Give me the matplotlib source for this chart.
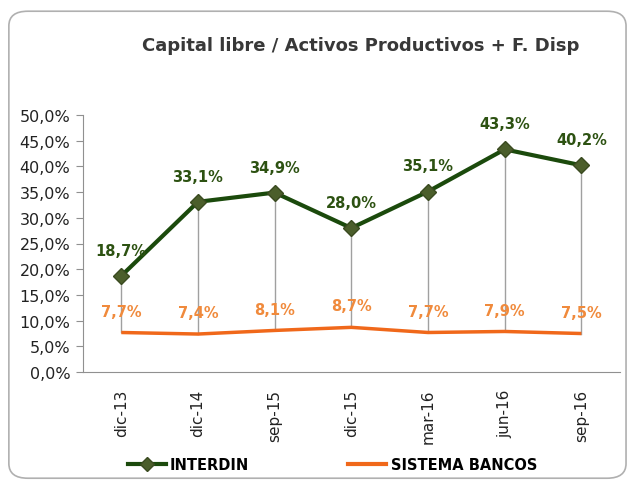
import matplotlib.pyplot as plt
from matplotlib.patches import FancyBboxPatch
from matplotlib.lines import Line2D

categories = ["dic-13", "dic-14", "sep-15", "dic-15", "mar-16", "jun-16", "sep-16"]
interdin = [18.7, 33.1, 34.9, 28.0, 35.1, 43.3, 40.2]
sistema = [7.7, 7.4, 8.1, 8.7, 7.7, 7.9, 7.5]
yticks = [0, 5, 10, 15, 20, 25, 30, 35, 40, 45, 50]

GREEN = "#1b4a0c"
GREEN_MK = "#4b5e2b"
GREEN_TXT = "#2d5212"
ORANGE = "#f0681a"
ORANGE_TXT = "#f08a3c"


def pct(v):
    return f"{v:.1f}%".replace(".", ",")


fig = plt.figure(figsize=(6.33, 4.89), dpi=100)
fig.patches.append(FancyBboxPatch((0.014, 0.02), 0.975, 0.955, boxstyle="round,pad=0,rounding_size=0.03",
                                  transform=fig.transFigure, fc="none", ec="#b0b0b0", lw=1.2, zorder=-1))

ax = fig.add_axes([0.131, 0.237, 0.848, 0.526])
x = list(range(len(categories)))

# drop lines between the two series
for i in x:
    ax.plot([i, i], [sistema[i], interdin[i]], color="#a0a0a0", lw=1, zorder=1)

ax.plot(x, sistema, color=ORANGE, lw=2.5, zorder=2, solid_capstyle="butt")
ax.plot(x, interdin, color=GREEN, lw=3, marker="D", markersize=8,
        markerfacecolor=GREEN_MK, markeredgecolor="#3a4a20", zorder=3)

for i in x:
    ax.annotate(pct(interdin[i]), (i, interdin[i]), xytext=(0, 13), textcoords="offset points",
                ha="center", va="bottom", color=GREEN_TXT, fontsize=10.5, fontweight="bold")
    ax.annotate(pct(sistema[i]), (i, sistema[i]), xytext=(0, 10), textcoords="offset points",
                ha="center", va="bottom", color=ORANGE_TXT, fontsize=10.5, fontweight="bold")

ax.set_xlim(-0.5, len(categories) - 0.5)
ax.set_ylim(0, 50)
ax.set_yticks(yticks)
ax.set_yticklabels([pct(v) for v in yticks], fontsize=11.5, color="#222222")
ax.set_xticks(x)
ax.set_xticklabels(categories, rotation=90, fontsize=11, color="#222222")
ax.tick_params(axis="y", length=5, color="#909090", pad=4)
ax.tick_params(axis="x", length=0, pad=12)
for s in ["top", "right"]:
    ax.spines[s].set_visible(False)
for s in ["left", "bottom"]:
    ax.spines[s].set_color("#909090")

fig.text(0.57, 0.905, "Capital libre / Activos Productivos + F. Disp", ha="center", va="center",
         fontsize=13, fontweight="bold", color="#383838")

handles = [Line2D([], [], color=GREEN, lw=3, marker="D", markersize=7,
                  markerfacecolor=GREEN_MK, markeredgecolor="#3a4a20"),
           Line2D([], [], color=ORANGE, lw=3)]
leg = fig.legend(handles, ["INTERDIN", "SISTEMA BANCOS"], loc="center", bbox_to_anchor=(0.525, 0.048),
                 ncol=2, frameon=False, handlelength=2.6, columnspacing=6.8, handletextpad=0.3,
                 prop={"weight": "bold", "size": 10.5})

fig.savefig("out.png", dpi=100)
